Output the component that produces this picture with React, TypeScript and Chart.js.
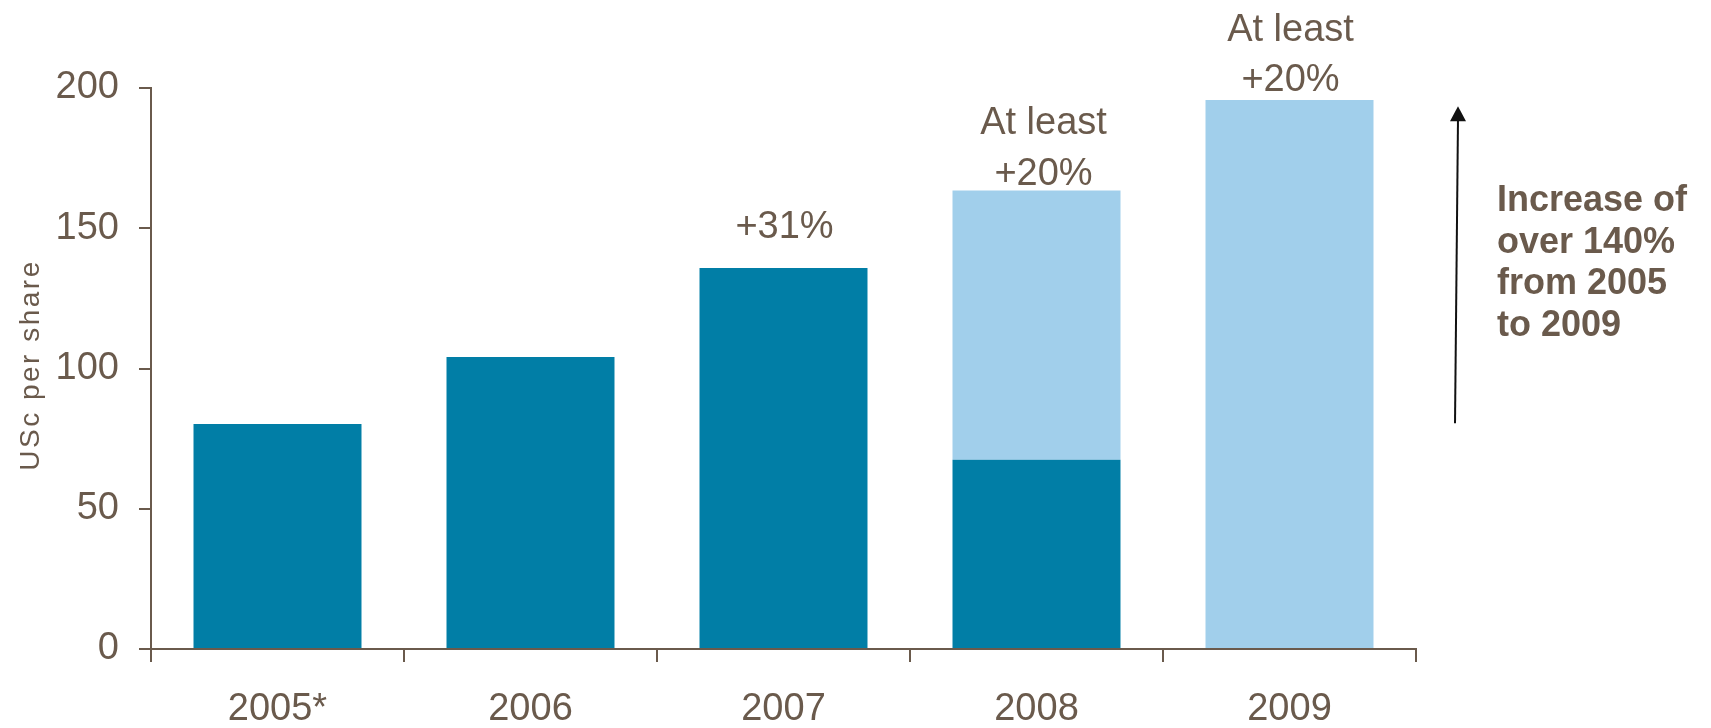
import React, { useEffect, useRef } from "react";
import { Chart, registerables } from "chart.js";

Chart.register(...registerables);

const categories = ["2005*", "2006", "2007", "2008", "2009"];
const paidValues = [80.2, 104.1, 135.8, 67.5, null];
const targetValues = [null, null, null, 96.0, 195.7];
const yTicks = [0, 50, 100, 150, 200];
const barLabels: string[][] = [[], [], ["+31%"], ["At least", "+20%"], ["At least", "+20%"]];
const sideNote = ["Increase of", "over 140%", "from 2005", "to 2009"];
const yTitle = "USc per share";

const TEXT = "rgb(106,90,76)";
const DARK = "rgb(1,126,166)";
const LIGHT = "rgb(161,207,235)";
const FONT = "'Liberation Sans', Arial, sans-serif";

const annotations = {
  id: "annotations",
  afterDraw(chart: any) {
    const { ctx, scales } = chart;
    const x = scales.x;
    const y = scales.y;
    ctx.save();
    ctx.fillStyle = TEXT;
    ctx.font = `38px ${FONT}`;
    ctx.textAlign = "center";
    ctx.textBaseline = "alphabetic";
    const gaps = [
      [],
      [],
      [30],
      [56, 5],
      [59, 9],
    ];
    categories.forEach((_, i) => {
      const lines = barLabels[i];
      if (!lines.length) return;
      const total = (paidValues[i] || 0) + (targetValues[i] || 0);
      const top = y.getPixelForValue(total);
      const cx = x.getPixelForValue(i) + (i === 3 ? 7 : 1);
      lines.forEach((t, j) => {
        ctx.fillText(t, cx, top - gaps[i][j]);
      });
    });

    // y axis title
    ctx.save();
    ctx.translate(31, 365);
    ctx.rotate(-Math.PI / 2);
    ctx.font = `28px ${FONT}`;
    (ctx as any).letterSpacing = "2.5px";
    ctx.textAlign = "center";
    ctx.textBaseline = "middle";
    ctx.fillText(yTitle, 0, 0);
    ctx.restore();

    // arrow
    const ax0 = x.right + 39;
    const ay0 = y.getPixelForValue(80.5);
    const ax1 = x.right + 42;
    const ay1 = y.getPixelForValue(193.5);
    ctx.strokeStyle = "#111";
    ctx.fillStyle = "#111";
    ctx.lineWidth = 2;
    ctx.beginPath();
    ctx.moveTo(ax0, ay0);
    ctx.lineTo(ax1, ay1 + 12);
    ctx.stroke();
    ctx.beginPath();
    ctx.moveTo(ax1, ay1);
    ctx.lineTo(ax1 - 8, ay1 + 15);
    ctx.lineTo(ax1 + 8, ay1 + 15);
    ctx.closePath();
    ctx.fill();

    // side note
    ctx.fillStyle = TEXT;
    ctx.font = `bold 36px ${FONT}`;
    ctx.textAlign = "left";
    ctx.textBaseline = "alphabetic";
    sideNote.forEach((t, j) => {
      ctx.fillText(t, x.right + 81, 211 + j * 41.7);
    });
    ctx.restore();
  },
};

export default function App() {
  const ref = useRef<HTMLCanvasElement>(null);
  useEffect(() => {
    document.body.style.margin = "0";
    const chart = new Chart(ref.current!, {
      type: "bar",
      data: {
        labels: categories,
        datasets: [
          { data: paidValues as any, backgroundColor: DARK, barPercentage: 0.664, categoryPercentage: 1 },
          { data: targetValues as any, backgroundColor: LIGHT, barPercentage: 0.664, categoryPercentage: 1 },
        ],
      },
      options: {
        animation: false,
        responsive: false,
        events: [],
        layout: { padding: { top: 88, right: 295, left: 0, bottom: 0 } },
        plugins: { legend: { display: false }, tooltip: { enabled: false }, title: { display: false } },
        scales: {
          x: {
            stacked: true,
            border: { display: true, color: TEXT, width: 2 },
            grid: { display: true, drawOnChartArea: false, drawTicks: true, tickLength: 13, offset: true, color: TEXT, lineWidth: 2 },
            ticks: { color: TEXT, font: { size: 38, family: FONT }, padding: 25, maxRotation: 0 },
            afterFit: (s: any) => { s.height = 79; },
          },
          y: {
            stacked: true,
            min: 0,
            max: 200,
            border: { display: true, color: TEXT, width: 2 },
            grid: { display: true, drawOnChartArea: false, drawTicks: true, tickLength: 12, color: TEXT, lineWidth: 2 },
            ticks: {
              color: TEXT,
              font: { size: 38, family: FONT },
              padding: 20,
              stepSize: 50,
              callback: (v: any) => (yTicks.includes(Number(v)) ? String(v) : ""),
            },
            afterFit: (s: any) => { s.width = 151; },
          },
        },
      },
      plugins: [annotations],
    });
    return () => chart.destroy();
  }, []);
  return (
    <div style={{ width: 1711, height: 728 }}>
      <canvas ref={ref} width={1711} height={728} style={{ display: "block" }} />
    </div>
  );
}
